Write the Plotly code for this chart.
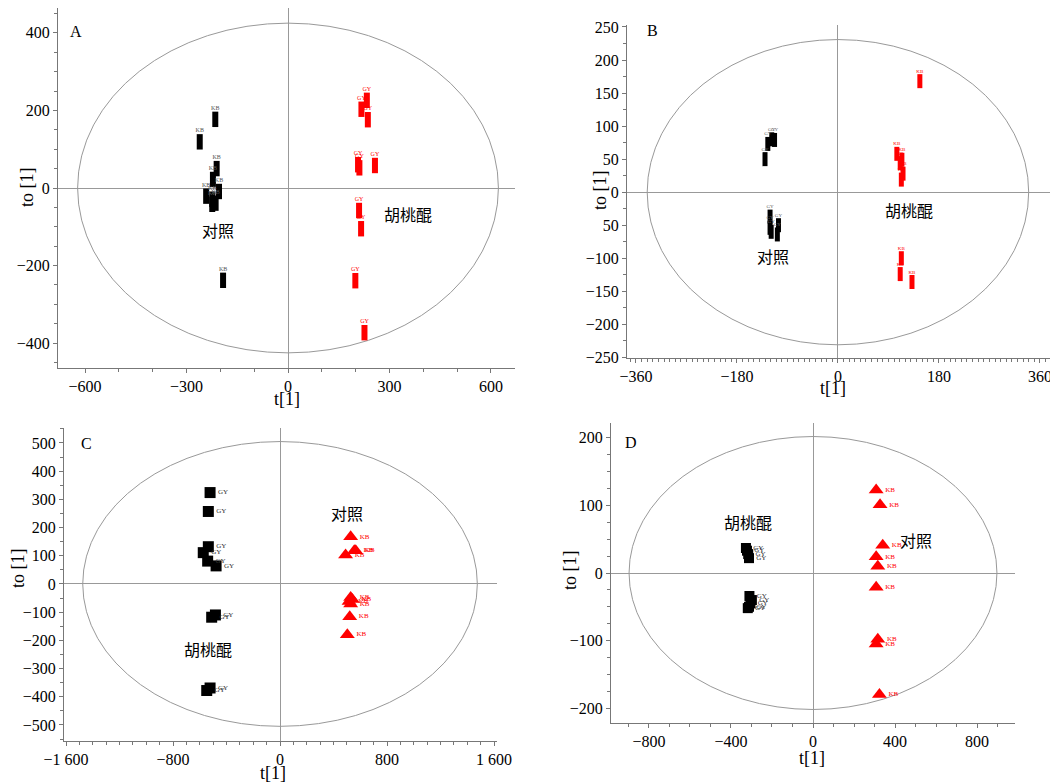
import plotly.graph_objects as go

W, H = 1058, 784
OFF = 8  # page body margin compensation

# ---------------- data ----------------
# Panel A
a_kb_x = [-215, -261, -211, -222, -204, -242, -224, -214, -224, -192]
a_kb_y = [177, 119, 50, 22, -9, -21, -29, -39, -42, -238]
a_gy_x = [233, 217, 236, 207, 211, 257, 210, 216, 199, 226]
a_gy_y = [226, 203, 176, 60, 52, 58, -58, -105, -239, -373]
# Panel B
b_black_x = [-118, -113, -125, -130, -121, -106, -119, -108, -121]
b_black_y = [80, 79, 73, 50, -37, -50, -60, -64, -54]
b_red_x = [146, 105, 114, 111, 116, 113, 113, 111, 132]
b_red_y = [168, 58, 49, 44, 28, 19, -100, -124, -136]
# Panel C
c_gy_x = [-523, -536, -536, -574, -541, -478, -483, -511, -523, -548]
c_gy_y = [324, 257, 132, 111, 81, 64, -110, -118, -369, -378]
c_kb_x = [528, 566, 490, 555, 528, 540, 516, 528, 521, 503]
c_kb_y = [167, 118, 103, 118, -48, -55, -62, -71, -116, -180]
# Panel D
d_gy_x = [-327, -322, -316, -312, -310, -298, -305, -318, -312]
d_gy_y = [37, 33, 28, 22, -34, -40, -45, -52, -50]
d_kb_x = [308, 327, 340, 308, 316, 308, 316, 308, 324]
d_kb_y = [123, 101, 41, 24, 10, -21, -98, -105, -180]

# ellipse semi-axes (Hotelling T2) per panel
ell_a = (622, 425)
ell_b = (340, 231)
ell_c = (1475, 505)
ell_d = (897, 202)

# axis ranges
rng = {
    "A": ([-680, 671], [-464, 464]),
    "B": ([-376, 378], [-251, 253]),
    "C": ([-1615, 1622], [-557, 553]),
    "D": ([-985, 985], [-222, 222]),
}
# pixel boxes (left, right, top, bottom) in page pixels
box = {
    "A": (58, 515, 8, 368),
    "B": (627, 1050, 25, 358),
    "C": (64, 497, 428, 741),
    "D": (611, 1015, 423, 723),
}

b_ytickvals = [250, 200, 150, 100, 50, 0, -50, -100, -150, -200, -250]
b_yticktext = ["250", "200", "150", "100", "50", "0", "50", "\u2212100", "\u2212150", "\u2212200", "\u2212250"]
c_xtickvals = [-1600, -800, 0, 800, 1600]
c_xticktext = ["\u22121 600", "\u2212800", "0", "800", "1 600"]

RED = "#ff0000"
BLK = "#000000"
SERIF = "Liberation Serif"
CJK = "Noto Sans CJK SC"


def fx(p):
    return (p - OFF) / W


def fy(p):
    return 1 - (p - OFF) / H


fig = go.Figure()

names = ["A", "B", "C", "D"]
suffix = {"A": "", "B": "2", "C": "3", "D": "4"}


def rect_marker(color, size, w=6):
    return dict(symbol="line-ns-open", size=size, color=color,
                line=dict(width=w, color=color))


# Panel A
fig.add_trace(go.Scatter(x=a_kb_x, y=a_kb_y, mode="markers+text", text=["KB"] * len(a_kb_x),
                         textposition="top center", textfont=dict(size=6, color="#555"),
                         marker=rect_marker(BLK, 11), xaxis="x", yaxis="y"))
fig.add_trace(go.Scatter(x=a_gy_x, y=a_gy_y, mode="markers+text", text=["GY"] * len(a_gy_x),
                         textposition="top center", textfont=dict(size=6, color=RED),
                         marker=rect_marker(RED, 11), xaxis="x", yaxis="y"))
# Panel B
fig.add_trace(go.Scatter(x=b_black_x, y=b_black_y, mode="markers+text", text=["GY"] * len(b_black_x),
                         textposition="top center", textfont=dict(size=5, color="#666"),
                         marker=rect_marker(BLK, 10, 5), xaxis="x2", yaxis="y2"))
fig.add_trace(go.Scatter(x=b_red_x, y=b_red_y, mode="markers+text", text=["KB"] * len(b_red_x),
                         textposition="top center", textfont=dict(size=5, color=RED),
                         marker=rect_marker(RED, 10, 5), xaxis="x2", yaxis="y2"))
# Panel C
fig.add_trace(go.Scatter(x=c_gy_x, y=c_gy_y, mode="markers+text", text=["GY"] * len(c_gy_x),
                         textposition="middle right", textfont=dict(size=7, color="#333"),
                         marker=dict(symbol="square", size=11, color=BLK), xaxis="x3", yaxis="y3"))
fig.add_trace(go.Scatter(x=c_kb_x, y=c_kb_y, mode="markers+text", text=["KB"] * len(c_kb_x),
                         textposition="middle right", textfont=dict(size=7, color=RED),
                         marker=dict(symbol="triangle-up", size=13, color=RED), xaxis="x3", yaxis="y3"))
# Panel D
fig.add_trace(go.Scatter(x=d_gy_x, y=d_gy_y, mode="markers+text", text=["GY"] * len(d_gy_x),
                         textposition="middle right", textfont=dict(size=7, color="#333"),
                         marker=dict(symbol="square", size=10, color=BLK), xaxis="x4", yaxis="y4"))
fig.add_trace(go.Scatter(x=d_kb_x, y=d_kb_y, mode="markers+text", text=["KB"] * len(d_kb_x),
                         textposition="middle right", textfont=dict(size=7, color=RED),
                         marker=dict(symbol="triangle-up", size=13, color=RED), xaxis="x4", yaxis="y4"))

layout = dict(width=W, height=H, margin=dict(l=0, r=0, t=0, b=0, autoexpand=False), showlegend=False,
              plot_bgcolor="white", paper_bgcolor="white",
              font=dict(family=SERIF, size=16, color="black"))

xdt = {"A": (300, 100), "B": (180, 10), "C": (800, 100), "D": (400, 100)}
ydt = {"A": (200, 50), "B": (50, 25), "C": (100, 50), "D": (100, 25)}

for n in names:
    l, r, t, b = box[n]
    s = suffix[n]
    xr, yr = rng[n]
    common = dict(showline=True, linecolor="#777", linewidth=1, ticks="outside", ticklen=4,
                  tickcolor="#777", showgrid=False, zeroline=True, zerolinecolor="#999",
                  zerolinewidth=1, tickfont=dict(family=SERIF, size=16, color="black"),
                  ticklabelstandoff=0, automargin=False, ticklabeloverflow="allow")
    xa = dict(common, domain=[fx(l), fx(r)], range=xr, anchor="y" + s,
              dtick=xdt[n][0], tick0=0,
              minor=dict(ticks="outside", ticklen=3, dtick=xdt[n][1], tick0=0, tickcolor="#777"))
    ya = dict(common, domain=[fy(b), fy(t)], range=yr, anchor="x" + s,
              dtick=ydt[n][0], tick0=0,
              minor=dict(ticks="outside", ticklen=3, dtick=ydt[n][1], tick0=0, tickcolor="#777"))
    if n == "B":
        ya.update(tickmode="array", tickvals=b_ytickvals, ticktext=b_yticktext)
    if n == "C":
        xa.update(tickmode="array", tickvals=c_xtickvals, ticktext=c_xticktext)
    layout["xaxis" + s] = xa
    layout["yaxis" + s] = ya

fig.update_layout(**layout)

# ellipses
for n, (ex, ey) in zip(names, [ell_a, ell_b, ell_c, ell_d]):
    s = suffix[n]
    fig.add_shape(type="circle", xref="x" + s, yref="y" + s, x0=-ex, x1=ex, y0=-ey, y1=ey,
                  line=dict(color="#999", width=1), layer="below")

# panel letters and group labels
ann = [
    ("x", "y", -627, 404, "A", SERIF, 16),
    ("x2", "y2", -331, 245, "B", SERIF, 16),
    ("x3", "y3", -1447, 498, "C", SERIF, 16),
    ("x4", "y4", -886, 193, "D", SERIF, 16),
    ("x", "y", -207, -109, "对照", CJK, 16),
    ("x", "y", 356, -66, "胡桃醌", CJK, 16),
    ("x2", "y2", -116, -96, "对照", CJK, 16),
    ("x2", "y2", 127, -27, "胡桃醌", CJK, 16),
    ("x3", "y3", 503, 253, "对照", CJK, 16),
    ("x3", "y3", -541, -231, "胡桃醌", CJK, 16),
    ("x4", "y4", -316, 76, "胡桃醌", CJK, 16),
    ("x4", "y4", 502, 49, "对照", CJK, 16),
]
for xr_, yr_, x, y, t, f, sz in ann:
    fig.add_annotation(xref=xr_, yref=yr_, x=x, y=y, text=t, showarrow=False,
                       font=dict(family=f, size=sz, color="black"))

# axis titles (page pixel positions)
titles = [
    (287, 399, "t[1]", 0), (833, 388, "t[1]", 0), (273, 773, "t[1]", 0), (812, 758, "t[1]", 0),
    (27, 187, "to [1]", -90), (600, 190, "to [1]", -90), (18, 568, "to [1]", -90), (570, 570, "to [1]", -90),
]
for px, py, t, rot in titles:
    fig.add_annotation(xref="paper", yref="paper", x=fx(px), y=fy(py), text=t, showarrow=False,
                       textangle=rot, xanchor="center", yanchor="middle",
                       font=dict(family=SERIF, size=18, color="black"))

fig.write_html("out.html")
